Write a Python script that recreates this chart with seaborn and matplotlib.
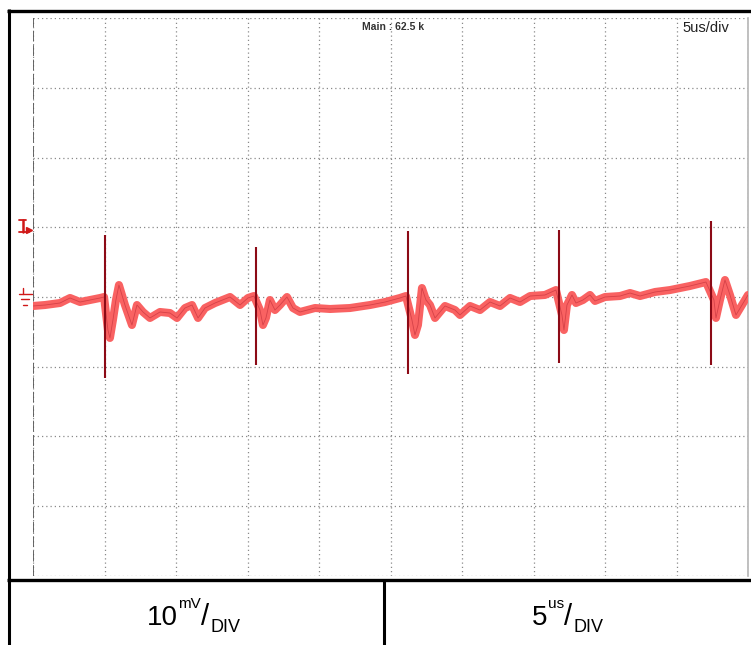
import numpy as np
import pandas as pd
import matplotlib
matplotlib.use("Agg")
import matplotlib.pyplot as plt
import seaborn as sns
from matplotlib.lines import Line2D

# ---- data ----
# time in microseconds (5 us/div), voltage in mV (10 mV/div)
trace_t = [0.00, 0.84, 1.89, 2.59, 3.29, 3.99, 4.69, 4.97,
           5.24, 5.38, 5.59, 5.80, 6.01, 6.43, 6.92, 7.27, 7.69, 8.18, 8.88, 9.58,
           10.07, 10.63, 11.12, 11.54, 12.03, 12.73, 13.78, 14.48, 15.03, 15.45,
           15.87, 16.08, 16.29, 16.57, 16.92, 17.27, 17.76, 18.18, 18.67, 19.72,
           20.77, 22.17, 23.57, 24.62, 25.66, 26.08,
           26.50, 26.71, 26.92, 27.20, 27.48, 27.76, 28.11, 28.46, 28.81, 29.51,
           29.86, 30.56, 31.26, 31.96, 32.66, 33.36, 34.06, 34.76, 35.80, 36.57,
           36.99, 37.13, 37.34, 37.69, 37.97, 38.46, 38.95, 39.30, 40.00, 41.05,
           41.75, 42.45, 43.50, 44.55, 45.94, 47.06,
           47.62, 47.76, 48.04, 48.39, 48.74, 49.16, 49.58, 50.00]
trace_mv = [-1.29, -1.15, -0.86, -0.14, -0.72, -0.43, -0.14, 0.00,
            -4.74, -5.88, -3.30, -0.43, 1.72, -1.15, -4.02, -1.15, -2.15, -3.01, -2.15, -2.30,
            -3.01, -1.58, -1.15, -3.01, -1.58, -0.86, 0.00, -1.15, -0.14, 0.14,
            -1.87, -4.02, -3.01, -0.43, -1.87, -1.15, 0.00, -1.58, -2.15, -1.58,
            -1.72, -1.58, -1.15, -0.72, -0.14, 0.14,
            -3.30, -5.45, -4.02, 1.29, -0.43, -1.15, -3.01, -2.15, -1.29, -1.87,
            -2.58, -1.29, -1.87, -0.72, -1.29, -0.14, -0.72, 0.14, 0.29, 1.00,
            -2.58, -4.74, -1.15, 0.29, -0.86, -0.43, 0.29, -0.57, 0.00, 0.14,
            0.57, 0.14, 0.72, 1.00, 1.58, 2.15,
            -0.43, -3.01, -0.43, 2.44, 0.29, -2.58, -1.15, 0.29]

spike_t = [5.03, 15.59, 26.22, 36.78, 47.41]
spike_hi = [8.90, 7.18, 9.47, 9.61, 10.91]
spike_lo = [-11.63, -9.76, -11.05, -9.47, -9.76]

x_ticks = list(range(0, 51, 5))
y_ticks = list(range(-40, 41, 10))
volts_div = ("10", "mV", "DIV")
time_div = ("5", "us", "DIV")
header_main = "Main : 62.5 k"
header_div = "5us/div"

# ---- figure ----
sns.set_theme(style="white")
plt.rcParams["font.family"] = ["Liberation Sans", "DejaVu Sans"]

W, H = 751, 645
fig = plt.figure(figsize=(W / 100, H / 100), dpi=100)
fig.patch.set_facecolor("white")

def fx(px):
    return px / W

def fy(py):
    return 1 - py / H

ax_left, ax_right, ax_top, ax_bot = 33, 748, 18.3, 575.7
ax = fig.add_axes([fx(ax_left), fy(ax_bot), fx(ax_right - ax_left), (ax_bot - ax_top) / H])
ax.set_xlim(0, 50)
ax.set_ylim(-40, 40)
ax.set_xticks(x_ticks)
ax.set_yticks(y_ticks)
ax.tick_params(length=0, labelbottom=False, labelleft=False)
ax.grid(True, color="#8a8a8a", linestyle=(0, (1, 2.4)), linewidth=0.9)
for s in ("top", "bottom", "left"):
    ax.spines[s].set_visible(False)
ax.spines["right"].set_color("#b5b5b5")
ax.spines["right"].set_linewidth(1.2)
ax.axvline(0, color="#5a5a5a", linestyle=(0, (6, 2)), linewidth=1.3, zorder=3)

df = pd.DataFrame({"t": trace_t, "mv": trace_mv})
sns.lineplot(data=df, x="t", y="mv", sort=False, color="#f96262",
             linewidth=5.8, ax=ax, zorder=4, solid_joinstyle="round",
             solid_capstyle="round")
sns.lineplot(data=df, x="t", y="mv", sort=False, color="#a01020",
             linewidth=0.6, alpha=0.4, ax=ax, zorder=5)
ax.vlines(spike_t, spike_lo, spike_hi, color="#8c0a16", linewidth=1.5, zorder=6)
ax.set_xlabel("")
ax.set_ylabel("")

# ---- channel markers (left of screen) ----
red = "#d01818"
# trigger level marker at +10 mV
ax.plot([-0.72, -0.72], [11.0, 9.4], color=red, lw=1.8, clip_on=False, zorder=7)
ax.plot([-0.95, -0.50], [11.0, 11.0], color=red, lw=1.3, clip_on=False)
ax.plot([-0.95, -0.25], [9.4, 9.4], color=red, lw=1.3, clip_on=False)
ax.plot([-0.25], [9.6], marker=">", color=red, ms=4, clip_on=False)
# ground marker at 0 mV
ax.plot([-0.72, -0.72], [1.3, 0.5], color=red, lw=1.0, clip_on=False)
ax.plot([-0.95, -0.10], [0.5, 0.5], color=red, lw=1.0, clip_on=False)
ax.plot([-0.85, -0.25], [-0.3, -0.3], color=red, lw=1.0, clip_on=False)
ax.plot([-0.70, -0.40], [-1.1, -1.1], color=red, lw=1.0, clip_on=False)

# ---- header texts ----
fig.text(fx(393), fy(27), header_main, ha="center", va="center", fontsize=7.5,
         fontweight="bold", color="#333333",
         family=["Liberation Sans Narrow", "Liberation Sans", "DejaVu Sans"])
fig.text(fx(706), fy(28), header_div, ha="center", va="center", fontsize=10.5,
         color="#222222", family=["Liberation Sans Narrow", "Liberation Sans", "DejaVu Sans"])

# ---- black frame and bottom table ----
def fline(x0, y0, x1, y1, lw):
    fig.add_artist(Line2D([fx(x0), fx(x1)], [fy(y0), fy(y1)], color="black",
                          linewidth=lw, solid_capstyle="butt"))

fline(7, 10.5, 751, 10.5, 2.4)
fline(8.5, 9, 8.5, 645, 2.2)
fline(7, 580, 751, 580, 2.4)
fline(384, 580, 384, 645, 2.2)

# bottom labels, built from pieces (value^unit / DIV)
def unit_label(x0, parts):
    val, unit, div = parts
    t1 = fig.text(fx(x0), fy(625), val, fontsize=20, ha="left", va="baseline", color="black")
    fig.canvas.draw()
    r = fig.canvas.get_renderer()
    bb = t1.get_window_extent(r)
    x1 = bb.x1 + 0.5
    t2 = fig.text(x1 / W, fy(608), unit, fontsize=11, ha="left", va="baseline", color="black")
    bb2 = t2.get_window_extent(r)
    x2 = bb2.x1
    t3 = fig.text(x2 / W, fy(625), "/", fontsize=21, ha="left", va="baseline", color="black")
    bb3 = t3.get_window_extent(r)
    fig.text((bb3.x1 + 1) / W, fy(632), div, fontsize=13, ha="left", va="baseline", color="black")

unit_label(147, volts_div)
unit_label(532, time_div)

fig.savefig("out.png", dpi=100, facecolor="white")
